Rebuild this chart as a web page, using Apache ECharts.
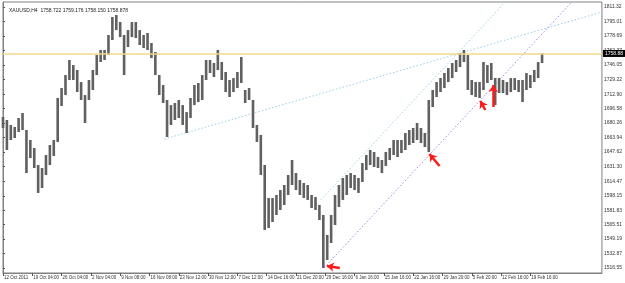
<!DOCTYPE html>
<html><head><meta charset="utf-8">
<script src="https://cdn.jsdelivr.net/npm/echarts@6/dist/echarts.min.js"></script>
<style>html,body{margin:0;padding:0;background:#fff}#c{width:625px;height:283px}</style>
</head><body><div id="c"></div>
<script>
// ---- data (XAUUSD, H4) ----
const titleText = 'XAUUSD,H4  1758.722 1759.176 1758.150 1758.878';
const currentPrice = 1758.88;
const currentPriceLabel = '1758.88';
const yLabels = ['1811.32','1795.01','1778.69','1762.37','1746.05','1729.22','1712.90','1696.58','1680.26','1663.94','1647.62','1631.30','1614.47','1598.15','1581.83','1565.51','1549.19','1532.87','1516.55'];
const xLabels = ['12 Oct 2011','19 Oct 04:00','26 Oct 04:00','2 Nov 04:00','9 Nov 08:00','16 Nov 08:00','23 Nov 12:00','30 Nov 12:00','7 Dec 12:00','14 Dec 16:00','21 Dec 20:00','29 Dec 16:00','6 Jan 16:00','15 Jan 16:00','22 Jan 16:00','29 Jan 20:00','5 Feb 20:00','12 Feb 16:00','19 Feb 16:00'];
const xLabelBars = [0,30,60,90,120,150,180,210,240,270,300,330,360,390,420,450,480,510,540];
const barStep = 4; // each entry groups 4 H4 bars
const highs = [1687.1,1683.7,1678.1,1675.8,1686.0,1691.6,1672.4,1661.1,1652.1,1632.9,
1629.5,1644.2,1655.5,1661.1,1708.6,1719.8,1734.5,1751.5,1745.8,1740.2,
1726.6,1711.9,1728.9,1740.2,1757.1,1762.8,1762.8,1779.7,1800.0,1802.3,
1794.4,1779.7,1785.3,1794.4,1794.4,1785.3,1779.7,1782.0,1770.7,1760.5,
1734.5,1723.2,1706.3,1700.6,1702.9,1706.3,1700.6,1692.7,1708.6,1723.2,
1725.5,1734.5,1751.5,1751.5,1748.1,1762.8,1749.2,1737.9,1728.9,1731.1,
1737.9,1754.9,1717.6,1719.8,1706.3,1678.1,1666.8,1632.9,1595.6,1595.6,
1599.0,1604.6,1610.3,1621.6,1638.5,1623.8,1615.9,1612.6,1610.3,1599.0,
1596.7,1587.7,1576.4,1553.8,1576.4,1599.0,1610.3,1618.2,1621.6,1623.8,
1621.6,1618.2,1635.1,1644.2,1649.8,1647.6,1641.9,1638.5,1647.6,1652.1,
1661.1,1661.1,1661.1,1669.0,1672.4,1674.7,1680.3,1674.7,1669.0,1706.3,
1717.6,1726.6,1731.1,1736.8,1742.4,1748.1,1751.5,1759.4,1762.8,1757.1,
1728.9,1726.6,1726.6,1749.2,1745.8,1748.1,1731.1,1731.1,1728.9,1726.6,
1731.1,1731.1,1728.9,1728.9,1736.8,1734.5,1740.2,1749.2,1759.2];
const lows = [1674.7,1649.8,1661.1,1663.4,1670.2,1672.4,1623.8,1640.8,1629.5,1601.3,
1606.9,1621.6,1632.9,1643.0,1658.9,1699.5,1711.9,1728.9,1728.9,1715.3,
1706.3,1680.3,1706.3,1717.6,1734.5,1749.2,1751.5,1757.1,1774.1,1785.3,
1777.4,1734.5,1766.2,1777.4,1776.3,1768.4,1765.0,1762.8,1753.7,1734.5,
1711.9,1702.9,1664.5,1678.1,1683.7,1686.0,1678.1,1669.0,1686.0,1700.6,
1704.0,1706.3,1728.9,1736.8,1732.3,1740.2,1728.9,1715.3,1709.7,1715.3,
1719.8,1725.5,1702.9,1706.3,1674.7,1658.9,1621.6,1559.5,1561.7,1568.5,
1576.4,1582.1,1587.7,1599.0,1610.3,1604.6,1599.0,1595.6,1593.4,1584.3,
1582.1,1570.8,1516.6,1525.6,1544.8,1565.1,1585.4,1593.4,1599.0,1606.9,
1604.6,1601.3,1613.7,1627.2,1632.9,1630.6,1629.5,1623.8,1631.8,1638.5,
1644.2,1641.9,1646.4,1649.8,1655.5,1657.7,1661.1,1657.7,1653.2,1647.6,
1698.4,1709.7,1715.3,1719.8,1726.6,1731.1,1737.9,1743.6,1749.2,1717.6,
1711.9,1709.7,1708.6,1717.6,1725.5,1728.9,1700.6,1714.2,1714.2,1711.9,
1715.3,1717.6,1715.3,1704.0,1717.6,1719.8,1726.6,1731.1,1748.1];
// trend lines: [bar, price] endpoints
const trendBlue1 = [[165.3,1662.2],[613.3,1805.7]];
const trendBlue2 = [[325.5,1593.4],[514.3,1816.9]];
const trendPurple = [[328.6,1516.6],[582.4,1816.9]];
// red arrows: tail -> head, [bar, price]
const arrows = [
  [[344.9,1516.6],[331.6,1518.8]],
  [[447.0,1631.7],[436.7,1645.3]],
  [[493.9,1695.0],[488.8,1705.2]],
  [[502.0,1698.4],[502.0,1723.2]]
];

// ---- chart ----
const yTickValues = yLabels.map(Number);
const barData = highs.map((h, i) => [i * barStep, lows[i], h]);
const FONT = 'Liberation Sans';
const nearest = (arr, v) => { let k = 0; arr.forEach((b, j) => { if (Math.abs(b - v) < Math.abs(arr[k] - v)) k = j; }); return k; };
const chart = echarts.init(document.getElementById('c'), null, {renderer: 'canvas'});
chart.setOption({
  animation: false,
  backgroundColor: '#ffffff',
  title: {text: titleText, left: 4, top: 3, textStyle: {fontSize: 5, fontWeight: 'normal', color: '#222', fontFamily: FONT}},
  grid: {left: 3, right: 21, top: 2, bottom: 10, show: true, borderColor: '#808080', borderWidth: 1},
  xAxis: {
    type: 'value', min: 0, max: 613.3,
    axisLine: {show: true, lineStyle: {color: '#808080'}},
    axisTick: {show: true, length: 3, customValues: xLabelBars, lineStyle: {color: '#555'}},
    axisLabel: {customValues: xLabelBars, fontSize: 4.5, color: '#333', fontFamily: FONT, align: 'left', margin: 2, padding: [0, 0, 0, 1],
      formatter: v => xLabels[nearest(xLabelBars, v)]},
    splitLine: {show: false}
  },
  yAxis: {
    type: 'value', position: 'right', min: 1510.9, max: 1817.0, scale: true,
    axisLine: {show: true, lineStyle: {color: '#808080'}},
    axisTick: {show: true, length: 2, customValues: yTickValues, lineStyle: {color: '#555'}},
    axisLabel: {customValues: yTickValues, fontSize: 5, color: '#333', fontFamily: FONT, margin: 2,
      formatter: v => yLabels[nearest(yTickValues, v)]},
    splitLine: {show: false}
  },
  series: [
    {
      type: 'line', data: trendBlue1, symbol: 'none', silent: true,
      lineStyle: {color: '#9ccfe6', width: 1, type: [1.5, 2]}, z: 1,
      markLine: {
        symbol: 'none', silent: true,
        lineStyle: {color: '#f3d98a', width: 1.5, type: 'solid'},
        label: {position: 'end', formatter: currentPriceLabel, backgroundColor: '#000', color: '#fff', fontSize: 5, fontFamily: FONT, padding: [1, 2, 1, 2], distance: 1},
        data: [{yAxis: currentPrice}]
      }
    },
    {type: 'line', data: trendBlue2, symbol: 'none', silent: true, lineStyle: {color: '#9ccfe6', width: 1, type: [1.5, 2]}, z: 1},
    {type: 'line', data: trendPurple, symbol: 'none', silent: true, lineStyle: {color: '#9a8ee0', width: 1, type: [1.5, 2]}, z: 1},
    {
      type: 'custom', data: barData, encode: {x: 0, y: [1, 2]}, z: 3,
      renderItem: (params, api) => {
        const x = api.value(0);
        const top = api.coord([x, api.value(2)]);
        const bot = api.coord([x, api.value(1)]);
        return {type: 'rect', shape: {x: top[0] - 1.3, y: top[1], width: 2.6, height: Math.max(1, bot[1] - top[1])}, style: {fill: '#606060'}};
      }
    },
    {
      type: 'lines', coordinateSystem: 'cartesian2d', z: 5, silent: true,
      symbol: ['none', 'arrow'], symbolSize: 7,
      lineStyle: {color: '#ff1a1a', width: 2.5, opacity: 1},
      data: arrows.map(a => ({coords: a}))
    }
  ]
});
</script></body></html>
